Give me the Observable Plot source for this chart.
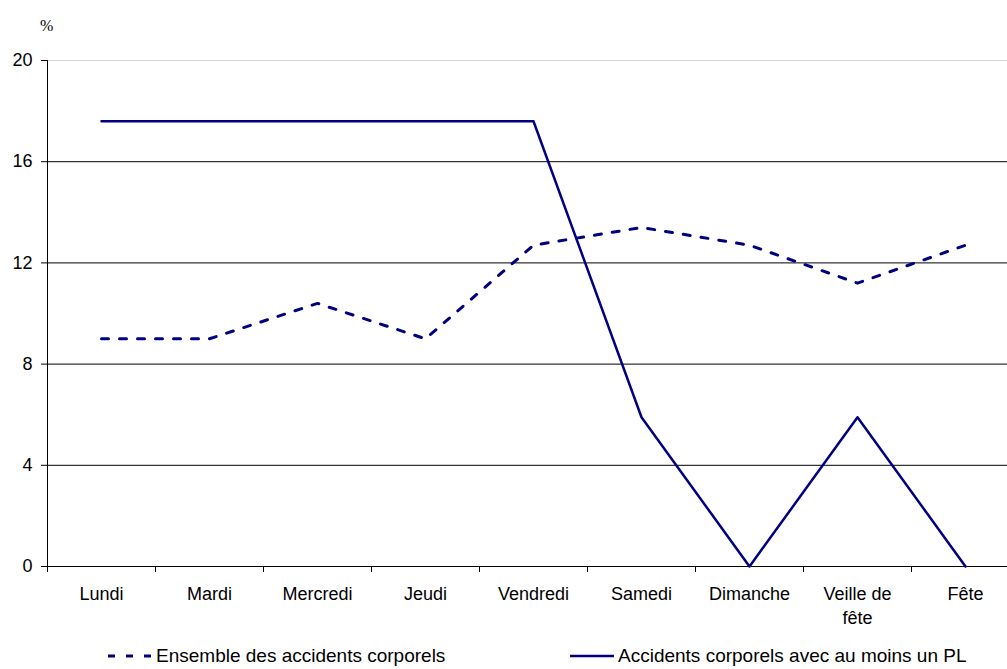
<!DOCTYPE html>
<html>
<head>
<meta charset="utf-8">
<script src="https://cdn.jsdelivr.net/npm/d3@7"></script>
<script src="https://cdn.jsdelivr.net/npm/@observablehq/plot@0.6"></script>
<style>
  html, body { margin: 0; padding: 0; background: #fff; overflow: hidden; }
  #wrap { position: relative; width: 1007px; height: 669px; overflow: hidden; font-family: "Liberation Sans", Arial, sans-serif; }
  #chart svg { overflow: hidden; }
  #unit { position: absolute; left: 40px; top: 17px; font-family: "Liberation Serif", "DejaVu Serif", serif; font-size: 16px; color: #000; }
  .leg { position: absolute; top: 645px; font-size: 19px; color: #000; display: flex; align-items: center; white-space: nowrap; }
  .leg svg { margin-right: 4px; }
</style>
</head>
<body>
<div id="wrap">
  <div id="chart"></div>
  <div id="unit">%</div>
</div>
<script>
const days = ["Lundi", "Mardi", "Mercredi", "Jeudi", "Vendredi", "Samedi", "Dimanche", "Veille de\nfête", "Fête"];
const ensemble = [9.0, 9.0, 10.4, 9.0, 12.7, 13.4, 12.7, 11.2, 12.7];
const avecPL = [17.6, 17.6, 17.6, 17.6, 17.6, 5.9, 0, 5.9, 0];
const yTicks = [0, 4, 8, 12, 16, 20];
const seriesNames = ["Ensemble des accidents corporels", "Accidents corporels avec au moins un PL"];

const color = "#000080";
const dashPattern = "7,11";
const idx = days.map((d, i) => i);
const bounds = d3.range(0, days.length + 1).map(i => i - 0.5);
const dataEns = idx.map(i => ({i, v: ensemble[i]}));
const dataPL = idx.map(i => ({i, v: avecPL[i]}));

const chart = Plot.plot({
  width: 1007,
  height: 630,
  marginLeft: 47,
  marginRight: -12,
  marginTop: 60,
  marginBottom: 64,
  style: { fontFamily: "'Liberation Sans', Arial, sans-serif", fontSize: "18px", color: "#000", background: "#fff", overflow: "hidden" },
  x: { type: "linear", domain: [-0.5, days.length - 0.5] },
  y: { domain: [0, 20] },
  marks: [
    Plot.ruleY(yTicks.filter(t => t > 0 && t < 20), { stroke: "#000", strokeWidth: 1 }),
    Plot.ruleY([20], { stroke: "#d4d4d4", strokeWidth: 1 }),
    Plot.axisY({ ticks: yTicks, tickSize: 6, tickPadding: 9, label: null, stroke: "#000", fontSize: 18 }),
    Plot.axisX({ ticks: idx, tickFormat: i => days[i], tickSize: 0, tickPadding: 16, label: null, fontSize: 18, lineHeight: 1.35 }),
    Plot.axisX({ ticks: bounds, tickFormat: () => "", tickSize: 6, label: null, stroke: "#000" }),
    Plot.ruleX([-0.5], { y1: 0, y2: 20, stroke: "#000", strokeWidth: 1 }),
    Plot.ruleY([0], { stroke: "#000", strokeWidth: 1 }),
    Plot.line(dataEns, { x: "i", y: "v", stroke: color, strokeWidth: 3, strokeDasharray: dashPattern }),
    Plot.line(dataPL, { x: "i", y: "v", stroke: color, strokeWidth: 2.5 })
  ]
});
document.getElementById("chart").appendChild(chart);

// legend
const wrap = document.getElementById("wrap");
const legPos = [108, 570];
seriesNames.forEach((name, k) => {
  const div = document.createElement("div");
  div.className = "leg";
  div.style.left = legPos[k] + "px";
  const dash = k === 0 ? `stroke-dasharray="${dashPattern}"` : '';
  const sw = k === 0 ? 3 : 2.5;
  div.innerHTML = `<svg width="44" height="20"><line x1="0" x2="44" y1="10" y2="10" stroke="${color}" stroke-width="${sw}" ${dash}/></svg><span>${name}</span>`;
  wrap.appendChild(div);
});
</script>
</body>
</html>
